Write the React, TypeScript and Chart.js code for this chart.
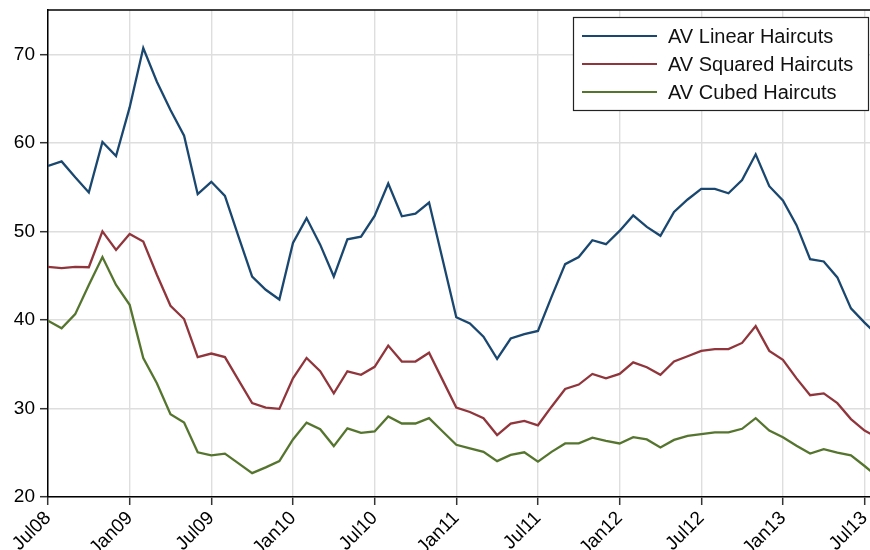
import { useEffect, useRef } from 'react';
import { Chart, registerables } from 'chart.js';

Chart.register(...registerables);

const months = [
  'Jul08', 'Aug08', 'Sep08', 'Oct08', 'Nov08', 'Dec08',
  'Jan09', 'Feb09', 'Mar09', 'Apr09', 'May09', 'Jun09', 'Jul09', 'Aug09', 'Sep09', 'Oct09', 'Nov09', 'Dec09',
  'Jan10', 'Feb10', 'Mar10', 'Apr10', 'May10', 'Jun10', 'Jul10', 'Aug10', 'Sep10', 'Oct10', 'Nov10', 'Dec10',
  'Jan11', 'Feb11', 'Mar11', 'Apr11', 'May11', 'Jun11', 'Jul11', 'Aug11', 'Sep11', 'Oct11', 'Nov11', 'Dec11',
  'Jan12', 'Feb12', 'Mar12', 'Apr12', 'May12', 'Jun12', 'Jul12', 'Aug12', 'Sep12', 'Oct12', 'Nov12', 'Dec12',
  'Jan13', 'Feb13', 'Mar13', 'Apr13', 'May13', 'Jun13', 'Jul13', 'Aug13',
];

const xTickLabels = ['Jul08', 'Jan09', 'Jul09', 'Jan10', 'Jul10', 'Jan11', 'Jul11', 'Jan12', 'Jul12', 'Jan13', 'Jul13'];
const yTickValues = [20, 30, 40, 50, 60, 70];

const seriesNames = ['AV Linear Haircuts', 'AV Squared Haircuts', 'AV Cubed Haircuts'];
const seriesColors = ['#1a476f', '#90353b', '#55752f'];

const linearValues = [
  57.4, 57.9, 56.1, 54.4, 60.1, 58.5, 64.0, 70.7, 66.9, 63.7, 60.8, 54.2, 55.6, 54.0, 49.4, 44.9, 43.4, 42.3,
  48.7, 51.5, 48.5, 44.9, 49.1, 49.4, 51.75, 55.4, 51.7, 52.0, 53.25, 46.8, 40.3, 39.6, 38.1, 35.6, 37.9, 38.4,
  38.75, 42.6, 46.3, 47.1, 49.0, 48.55, 50.05, 51.8, 50.5, 49.5, 52.2, 53.6, 54.8, 54.8, 54.3, 55.8, 58.7, 55.1,
  53.5, 50.7, 46.85, 46.6, 44.8, 41.3, 39.7, 38.2,
];

const squaredValues = [
  46.0, 45.85, 46.0, 45.95, 50.0, 47.9, 49.7, 48.85, 45.1, 41.6, 40.1, 35.8, 36.2, 35.8, 33.2, 30.6, 30.1, 29.95,
  33.4, 35.7, 34.2, 31.7, 34.2, 33.8, 34.7, 37.1, 35.3, 35.3, 36.3, 33.2, 30.1, 29.6, 28.9, 27.0, 28.3, 28.6,
  28.1, 30.2, 32.2, 32.7, 33.9, 33.4, 33.9, 35.2, 34.65, 33.8, 35.3, 35.9, 36.5, 36.7, 36.7, 37.4, 39.3, 36.5,
  35.5, 33.4, 31.5, 31.7, 30.6, 28.8, 27.5, 26.7,
];

const cubedValues = [
  39.9, 39.05, 40.65, 43.95, 47.1, 43.95, 41.7, 35.7, 32.85, 29.35, 28.4, 25.05, 24.7, 24.9, 23.8, 22.7, 23.35, 24.05,
  26.5, 28.4, 27.65, 25.75, 27.75, 27.25, 27.4, 29.1, 28.3, 28.3, 28.9, 27.4, 25.9, 25.5, 25.1, 24.05, 24.75, 25.05,
  24.0, 25.1, 26.05, 26.05, 26.7, 26.35, 26.05, 26.75, 26.5, 25.6, 26.45, 26.9, 27.1, 27.3, 27.3, 27.7, 28.9, 27.5,
  26.75, 25.8, 24.9, 25.4, 25.0, 24.7, 23.5, 22.2,
];

const FONT = '"Liberation Sans", Arial, sans-serif';

const toPoints = (vals: number[]) => vals.map((v, i) => ({ x: months.indexOf(months[i]), y: v }));

const framePlugin = {
  id: 'frameAndLegend',
  afterDraw(chart: any) {
    const { ctx, chartArea: a } = chart;
    ctx.save();
    ctx.strokeStyle = '#000';
    ctx.lineWidth = 1.5;
    ctx.beginPath();
    ctx.moveTo(a.left, a.top);
    ctx.lineTo(a.right, a.top);
    ctx.stroke();

    // legend box
    const bx = a.right - 297;
    const by = a.top + 7;
    const bw = 295;
    const bh = 93;
    ctx.fillStyle = '#fff';
    ctx.fillRect(bx, by, bw, bh);
    ctx.strokeStyle = '#222';
    ctx.lineWidth = 1.2;
    ctx.strokeRect(bx + 0.5, by + 0.5, bw, bh);
    ctx.font = `20px ${FONT}`;
    ctx.textBaseline = 'middle';
    ctx.textAlign = 'left';
    chart.data.datasets.forEach((ds: any, i: number) => {
      const yy = by + 19 + i * 28;
      ctx.strokeStyle = ds.borderColor;
      ctx.lineWidth = 2.2;
      ctx.beginPath();
      ctx.moveTo(bx + 9, yy);
      ctx.lineTo(bx + 84, yy);
      ctx.stroke();
      ctx.fillStyle = '#111';
      ctx.fillText(ds.label, bx + 95, yy + 1);
    });
    ctx.restore();
  },
};

export default function App() {
  const ref = useRef<HTMLCanvasElement>(null);

  useEffect(() => {
    if (!ref.current) return;
    const seriesValues = [linearValues, squaredValues, cubedValues];
    const chart = new Chart(ref.current, {
      type: 'line',
      data: {
        datasets: seriesValues.map((vals, i) => ({
          label: seriesNames[i],
          data: toPoints(vals),
          borderColor: seriesColors[i],
          backgroundColor: seriesColors[i],
          borderWidth: 2.3,
          pointRadius: 0,
          tension: 0,
          fill: false,
        })),
      },
      options: {
        responsive: false,
        animation: false,
        devicePixelRatio: 1,
        layout: { padding: { top: 10, left: 0, right: 0, bottom: 0 } },
        plugins: {
          legend: { display: false },
          tooltip: { enabled: false },
        },
        scales: {
          x: {
            type: 'linear',
            min: 0,
            max: 60.4,
            afterBuildTicks: (scale: any) => {
              scale.ticks = xTickLabels.map((l) => ({ value: months.indexOf(l) }));
            },
            afterFit: (scale: any) => {
              scale.height = 53;
              scale.paddingLeft = 0;
              scale.paddingRight = 0;
            },
            ticks: {
              autoSkip: false,
              minRotation: 45,
              maxRotation: 45,
              padding: 2,
              color: '#000',
              font: { family: FONT, size: 19 },
              callback: (v: any) => months[Math.round(Number(v))],
            },
            grid: {
              color: '#dedede',
              lineWidth: 1.4,
              tickColor: '#333',
              tickLength: 8,
              tickWidth: 1.5,
            },
            border: { color: '#000', width: 1.5 },
          },
          y: {
            type: 'linear',
            min: 20,
            max: 75,
            afterBuildTicks: (scale: any) => {
              scale.ticks = yTickValues.map((v) => ({ value: v }));
            },
            afterFit: (scale: any) => {
              scale.width = 48;
              scale.paddingTop = 0;
              scale.paddingBottom = 0;
            },
            ticks: {
              padding: 5,
              color: '#000',
              font: { family: FONT, size: 19 },
            },
            grid: {
              color: '#dedede',
              lineWidth: 1.4,
              tickColor: '#333',
              tickLength: 8,
              tickWidth: 1.5,
            },
            border: { color: '#000', width: 1.5 },
          },
        },
      },
      plugins: [framePlugin],
    });
    return () => chart.destroy();
  }, []);

  return (
    <div style={{ position: 'fixed', left: 0, top: 0, width: 870, height: 550, background: '#fff' }}>
      <canvas ref={ref} width={870} height={550} style={{ width: 870, height: 550, display: 'block' }} />
    </div>
  );
}
